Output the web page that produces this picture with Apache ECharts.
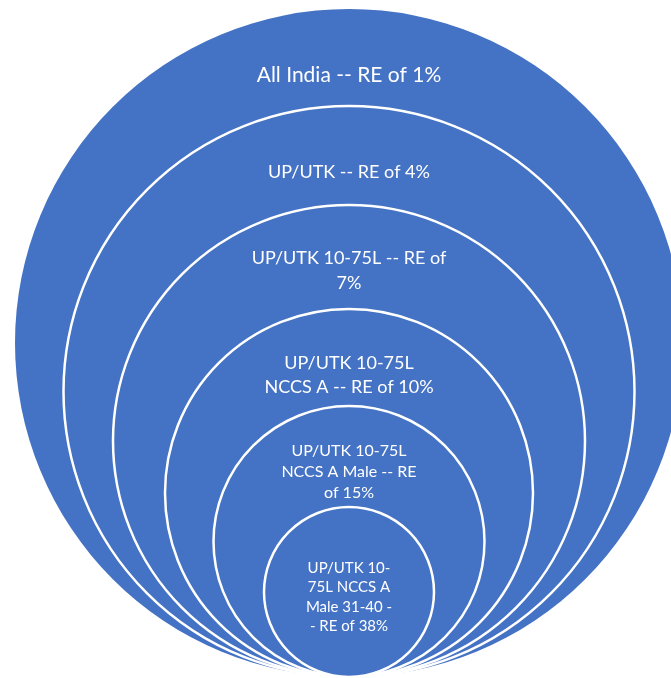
<!DOCTYPE html>
<html>
<head>
<meta charset="utf-8">
<script src="https://cdn.jsdelivr.net/npm/echarts@6/dist/echarts.min.js"></script>
<style>html,body{margin:0;padding:0;background:#fff;}#chart{width:671px;height:678px;}</style>
</head>
<body>
<div id="chart"></div>
<script>
// Nested segments (outermost first)
const labels = [
  'All India -- RE of 1%',
  'UP/UTK -- RE of 4%',
  'UP/UTK 10-75L -- RE of\n7%',
  'UP/UTK 10-75L\nNCCS A -- RE of 10%',
  'UP/UTK 10-75L\nNCCS A Male -- RE\nof 15%',
  'UP/UTK 10-\n75L NCCS A\nMale 31-40 -\n- RE of 38%'
];
const radii = [334, 285.5, 236, 184, 135.5, 85];

const fontSizes = [21, 18, 18, 18, 16, 15];
const lineHeights = [26, 25, 25, 24, 21, 19.5];
const CX = 349, BOTTOM = 677, LABEL_OFFSET = 66;

const chart = echarts.init(document.getElementById('chart'));
chart.setOption({
  backgroundColor: '#ffffff',
  animation: false,
  grid: {left: 0, right: 0, top: 0, bottom: 0},
  xAxis: {type: 'value', min: 0, max: 671, show: false},
  yAxis: {type: 'value', min: 0, max: 678, inverse: true, show: false},
  series: [{
    type: 'custom',
    coordinateSystem: 'cartesian2d',
    data: radii.map((r, i) => [i, r]),
    renderItem: function (params, api) {
      const i = api.value(0);
      const r = api.value(1);
      const cy = BOTTOM - r;
      const c = api.coord([CX, cy]);
      const rp = api.size([r, r])[0];
      const last = i === radii.length - 1;
      const ly = last ? cy + 5 : BOTTOM - 2 * r + LABEL_OFFSET;
      const lp = api.coord([CX, ly]);
      return {
        type: 'group',
        children: [
          {
            type: 'circle',
            shape: {cx: c[0], cy: c[1], r: rp},
            style: {fill: '#4472C4', stroke: '#ffffff', lineWidth: i === 0 ? 0 : 2.5}
          },
          {
            type: 'text',
            style: {
              text: labels[i],
              x: lp[0], y: lp[1],
              fill: '#ffffff',
              fontFamily: 'Lato',
              fontSize: fontSizes[i],
              lineHeight: lineHeights[i],
              align: 'center',
              verticalAlign: 'middle'
            }
          }
        ]
      };
    }
  }]
});
</script>
</body>
</html>
